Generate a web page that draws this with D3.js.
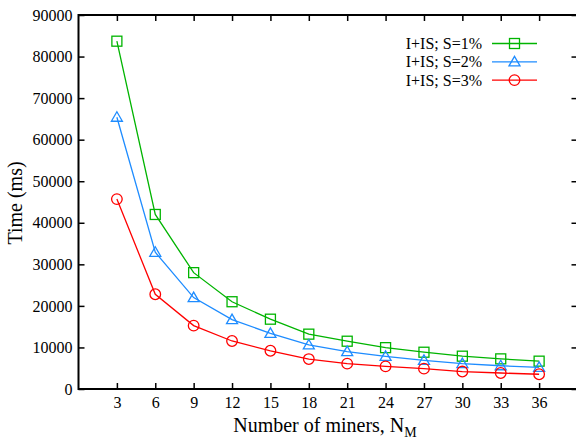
<!DOCTYPE html>
<html>
  <head>
    <meta charset="utf-8">
    <title>Time vs number of miners</title>
    <style>
      body { margin: 0; background: #fff; }
      svg text { font-family: "Liberation Serif", "DejaVu Serif", serif; fill: #000; }
    </style>
  </head>
  <body>
    <div id="vis"></div>
    <script src="https://d3js.org/d3.v7.min.js"></script>
    <script>
    // values
    let miners = [3, 6, 9, 12, 15, 18, 21, 24, 27, 30, 33, 36];
    let s1 = [83700, 42000, 28000, 21000, 16800, 13200, 11500, 9950, 8850, 7900, 7250, 6700];
    let s2 = [65400, 32900, 22000, 16700, 13400, 10600, 9000, 7850, 6900, 6100, 5600, 5200];
    let s3 = [45700, 22800, 15250, 11550, 9200, 7200, 6100, 5450, 4900, 4200, 3850, 3550];
    let labels = ["I+IS; S=1%", "I+IS; S=2%", "I+IS; S=3%"];
    let yTicks = [0, 10000, 20000, 30000, 40000, 50000, 60000, 70000, 80000, 90000];

    let w = 576, h = 439;
    let plotL = 78.5, plotR = 577.5, plotT = 15, plotB = 389;

    let svg = d3.select("#vis").append("svg")
                .attr("width", w)
                .attr("height", h)
                .style("font-family", "'Liberation Serif', serif");

    let x = d3.scaleLinear().domain([0, 39]).range([plotL, plotR]);
    let y = d3.scaleLinear().domain([0, 90000]).range([plotB, plotT]);

    let series = [
      {name: labels[0], values: s1, color: "#00b400", shape: "square"},
      {name: labels[1], values: s2, color: "#1e8cff", shape: "triangle"},
      {name: labels[2], values: s3, color: "#ff0000", shape: "circle"}
    ];

    // ticks (inward, mirrored on top/right)
    let tl = 6;
    svg.append("g").attr("transform", "translate(0," + plotB + ")")
      .call(d3.axisBottom(x).tickValues(miners).tickSizeInner(-tl).tickSizeOuter(0).tickPadding(8));
    svg.append("g").attr("transform", "translate(0," + plotT + ")")
      .call(d3.axisTop(x).tickValues(miners).tickSizeInner(-tl).tickSizeOuter(0).tickFormat(""));
    svg.append("g").attr("transform", "translate(" + plotL + ",0)")
      .call(d3.axisLeft(y).tickValues(yTicks).tickFormat(d3.format("d"))
              .tickSizeInner(-tl).tickSizeOuter(0).tickPadding(6));
    svg.append("g").attr("transform", "translate(" + plotR + ",0)")
      .call(d3.axisRight(y).tickValues(yTicks).tickSizeInner(-tl).tickSizeOuter(0).tickFormat(""));

    svg.selectAll(".domain").remove();
    svg.selectAll("g").attr("font-family", null).attr("font-size", null);
    svg.selectAll(".tick line").attr("stroke", "#000").attr("stroke-width", 1.5);
    svg.selectAll(".tick text")
       .style("font-size", "16px")
       .attr("fill", "#000");

    // frame
    svg.append("rect")
       .attr("x", plotL).attr("y", plotT)
       .attr("width", plotR - plotL).attr("height", plotB - plotT)
       .attr("fill", "none").attr("stroke", "#000").attr("stroke-width", 2);

    function marker(g, shape, color) {
      if (shape == "square") {
        g.append("rect").attr("x", -5).attr("y", -5).attr("width", 10).attr("height", 10)
         .attr("fill", "none").attr("stroke", color).attr("stroke-width", 1.3);
      } else if (shape == "triangle") {
        g.append("path").attr("d", "M0,-5.5L5.5,4L-5.5,4Z")
         .attr("fill", "none").attr("stroke", color).attr("stroke-width", 1.3);
      } else {
        g.append("circle").attr("r", 5.3)
         .attr("fill", "none").attr("stroke", color).attr("stroke-width", 1.3);
      }
    }

    let line = d3.line()
      .x(function(d) { return x(d[0]); })
      .y(function(d) { return y(d[1]); });

    series.forEach(function(s) {
      let pts = miners.map(function(m, i) { return [m, s.values[i]]; });
      svg.append("path")
         .attr("d", line(pts))
         .attr("fill", "none")
         .attr("stroke", s.color)
         .attr("stroke-width", 1.3);
      pts.forEach(function(p) {
        let g = svg.append("g").attr("transform", "translate(" + x(p[0]) + "," + y(p[1]) + ")");
        marker(g, s.shape, s.color);
      });
    });

    // legend
    series.forEach(function(s, i) {
      let ly = 43.5 + i * 18.3;
      svg.append("text")
         .attr("x", 482).attr("y", ly + 5.5)
         .attr("text-anchor", "end")
         .style("font-size", "16px")
         .text(s.name);
      svg.append("line")
         .attr("x1", 492).attr("x2", 537).attr("y1", ly).attr("y2", ly)
         .attr("stroke", s.color).attr("stroke-width", 1.3);
      let g = svg.append("g").attr("transform", "translate(514.5," + ly + ")");
      marker(g, s.shape, s.color);
    });

    // axis titles
    let xt = svg.append("text")
       .attr("x", 325).attr("y", 432)
       .attr("text-anchor", "middle")
       .style("font-size", "20px");
    xt.append("tspan").text("Number of miners, N");
    xt.append("tspan").attr("dy", 5).style("font-size", "14px").text("M");

    svg.append("text")
       .attr("transform", "translate(22,203) rotate(-90)")
       .attr("text-anchor", "middle")
       .style("font-size", "20px")
       .text("Time (ms)");
    </script>
  </body>
</html>
